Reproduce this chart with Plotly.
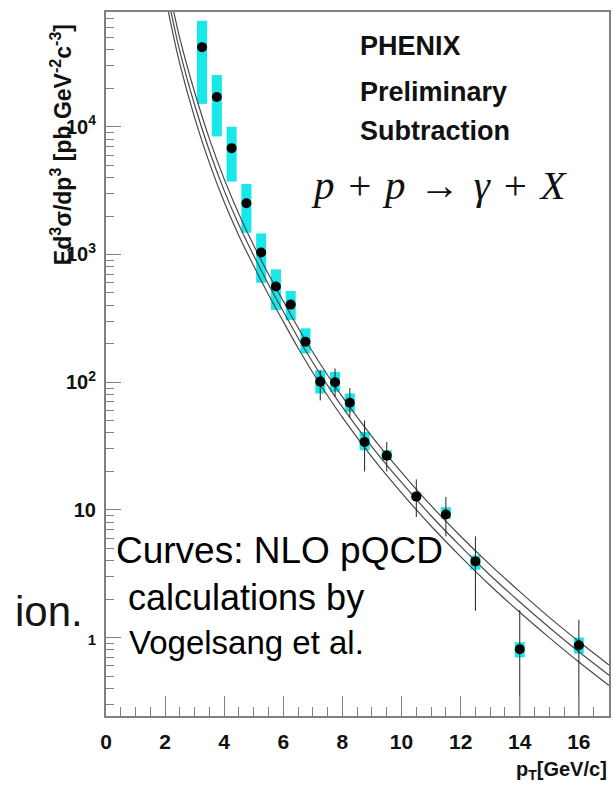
import plotly.graph_objects as go

# ---- data points (pT in GeV/c, cross section in pb GeV^-2 c^-3) ----
pt = [3.25, 3.75, 4.25, 4.75, 5.25, 5.75, 6.25, 6.75, 7.25, 7.75, 8.25, 8.75, 9.5, 10.5, 11.5, 12.5, 14.0, 16.0]
xsec = [42000, 17100, 6800, 2520, 1035, 561, 405, 207, 101, 100, 69, 34, 26.6, 12.7, 9.2, 3.95, 0.81, 0.87]
stat_lo = [40800, 16600, 6600, 2450, 1005, 545, 393, 200, 72, 77, 53, 20, 20, 8.8, 6.2, 1.62, 0.1, 0.1]
stat_hi = [43200, 17600, 7000, 2590, 1065, 577, 417, 214, 124, 128, 90, 50, 34, 17.3, 12.6, 6.2, 1.64, 1.38]
sys_lo = [15100, 8400, 3720, 1480, 600, 367, 306, 168, 81.5, 84, 58.5, 29.3, 24.5, 12.0, 8.5, 3.4, 0.70, 0.75]
sys_hi = [67600, 25400, 10000, 3560, 1460, 764, 519, 264, 124, 120, 81.5, 40.7, 29.3, 13.8, 10.5, 4.4, 0.92, 1.0]

# ---- NLO pQCD curves ----
curve_x = [2.0, 2.2, 2.5, 3.0, 3.5, 4.0, 4.5, 5.0, 5.5, 6.0, 6.5, 7.0, 7.5, 8.0, 9.0, 10.0, 11.0, 12.0,
           13.0, 14.0, 15.0, 16.0, 17.0, 17.5]
curve_mid = [134900, 79430, 38900, 14790, 6457, 3162, 1698, 977, 582, 358, 222, 142.6, 94.2, 63.7, 31.2,
             16.4, 8.99, 5.18, 3.08, 1.90, 1.20, 0.774, 0.512, 0.417]
curve_up = [169800, 100000, 48970, 18620, 8040, 3890, 2065, 1175, 700, 431, 267, 171.4, 113.2, 76.6, 37.5,
            19.7, 10.8, 6.22, 3.71, 2.29, 1.44, 0.931, 0.615, 0.50]
curve_lo = [107200, 63100, 30900, 11750, 5190, 2570, 1396, 813, 484, 298, 185, 118.6, 78.3, 53.0, 25.9,
            13.6, 7.48, 4.31, 2.56, 1.58, 1.00, 0.644, 0.426, 0.347]

x_ticks = [0, 2, 4, 6, 8, 10, 12, 14, 16]
y_tickvals = [1, 10, 100, 1000, 10000]
y_ticktext = ["<span style='font-size:15px'>1</span>", "10", "10<sup>2</sup>", "10<sup>3</sup>", "10<sup>4</sup>"]

FONT = "Liberation Sans, Arial, Helvetica, sans-serif"
SERIF = "Liberation Serif, Times New Roman, DejaVu Serif, serif"
CYAN = "#18e8ea"
AXC = "#808080"

W, H = 614, 785
ML, MR, MT, MB = 106, 3, 12, 69
PW, PH = W - ML - MR, H - MT - MB


def px(xp):
    return (xp - ML) / PW


def py(yp):
    return (H - MB - yp) / PH


fig = go.Figure()

fig.add_trace(go.Bar(
    x=pt, base=sys_lo, y=[h - l for h, l in zip(sys_hi, sys_lo)], width=0.34,
    marker=dict(color=CYAN, line=dict(width=0)), showlegend=False, hoverinfo="skip"))

for cy in (curve_up, curve_mid, curve_lo):
    fig.add_trace(go.Scatter(x=curve_x, y=cy, mode="lines", line=dict(color="#4a4a4a", width=1.2, shape="spline"),
                             showlegend=False, hoverinfo="skip"))

fig.add_trace(go.Scatter(
    x=pt, y=xsec, mode="markers",
    marker=dict(color="black", size=10),
    error_y=dict(type="data", symmetric=False,
                 array=[h - v for h, v in zip(stat_hi, xsec)],
                 arrayminus=[v - l for v, l in zip(xsec, stat_lo)],
                 color="#222222", thickness=1, width=0),
    showlegend=False))

SP = "\u2004"
annotations = [
    dict(text="<b>PHENIX</b>", x=px(359), y=py(46), xanchor="left", yanchor="middle",
         font=dict(family=FONT, size=27, color="#111")),
    dict(text="<b>Preliminary</b>", x=px(359), y=py(92), xanchor="left", yanchor="middle",
         font=dict(family=FONT, size=27, color="#111")),
    dict(text="<b>Subtraction</b>", x=px(359), y=py(131), xanchor="left", yanchor="middle",
         font=dict(family=FONT, size=27, color="#111")),
    dict(text=f"<i>p</i>{SP}+{SP}<i>p</i>{SP}\u2192{SP}<i>\u03b3</i>{SP}+{SP}<i>X</i>",
         x=px(440), y=py(185), xanchor="center", yanchor="middle",
         font=dict(family=SERIF, size=41, color="#111")),
    dict(text="Curves: NLO pQCD", x=px(114), y=py(550), xanchor="left", yanchor="middle",
         font=dict(family=FONT, size=37, color="black")),
    dict(text="calculations by", x=px(126), y=py(597), xanchor="left", yanchor="middle",
         font=dict(family=FONT, size=36, color="black")),
    dict(text="Vogelsang et al.", x=px(127), y=py(642), xanchor="left", yanchor="middle",
         font=dict(family=FONT, size=33, color="black")),
    dict(text="ion.", x=px(13), y=py(611), xanchor="left", yanchor="middle",
         font=dict(family=FONT, size=42, color="#151515")),
    dict(text="<b>Ed<sup>3</sup>\u03c3/dp<sup>3</sup> [pb GeV<sup>-2</sup>c<sup>-3</sup>]</b>",
         x=px(61), y=py(145), xanchor="center", yanchor="middle", textangle=-90,
         font=dict(family=FONT, size=23, color="#111")),
    dict(text="<b>p<sub>T</sub>[GeV/c]</b>", x=px(611), y=py(770), xanchor="right", yanchor="middle",
         font=dict(family=FONT, size=20, color="#111")),
]
for a in annotations:
    a.update(xref="paper", yref="paper", showarrow=False)

fig.update_layout(
    width=W, height=H,
    margin=dict(l=ML, r=MR, t=MT, b=MB),
    paper_bgcolor="white", plot_bgcolor="white",
    barmode="overlay", showlegend=False,
    annotations=annotations,
    xaxis=dict(range=[0, 17.02], tickmode="array", tickvals=x_ticks,
               ticks="inside", ticklen=20, tickwidth=1.3, tickcolor=AXC,
               minor=dict(dtick=0.5, tick0=0, ticks="inside", ticklen=9, tickwidth=1.3, tickcolor=AXC),
               showline=True, linecolor=AXC, linewidth=2, mirror=True,
               showgrid=False, zeroline=False, ticklabelstandoff=6,
               tickfont=dict(family=FONT, size=21, color="#111", weight="bold")),
    yaxis=dict(type="log", range=[-0.614, 4.8985], tickmode="array", tickvals=y_tickvals, ticktext=y_ticktext,
               ticks="inside", ticklen=15, tickwidth=1.3, tickcolor=AXC,
               minor=dict(dtick="D1", ticks="inside", ticklen=8, tickwidth=1.3, tickcolor=AXC),
               showline=True, linecolor=AXC, linewidth=2, mirror=True,
               showgrid=False, zeroline=False, ticklabelstandoff=4,
               tickfont=dict(family=FONT, size=20, color="#111", weight="bold")),
)

fig.write_html("out.html")
